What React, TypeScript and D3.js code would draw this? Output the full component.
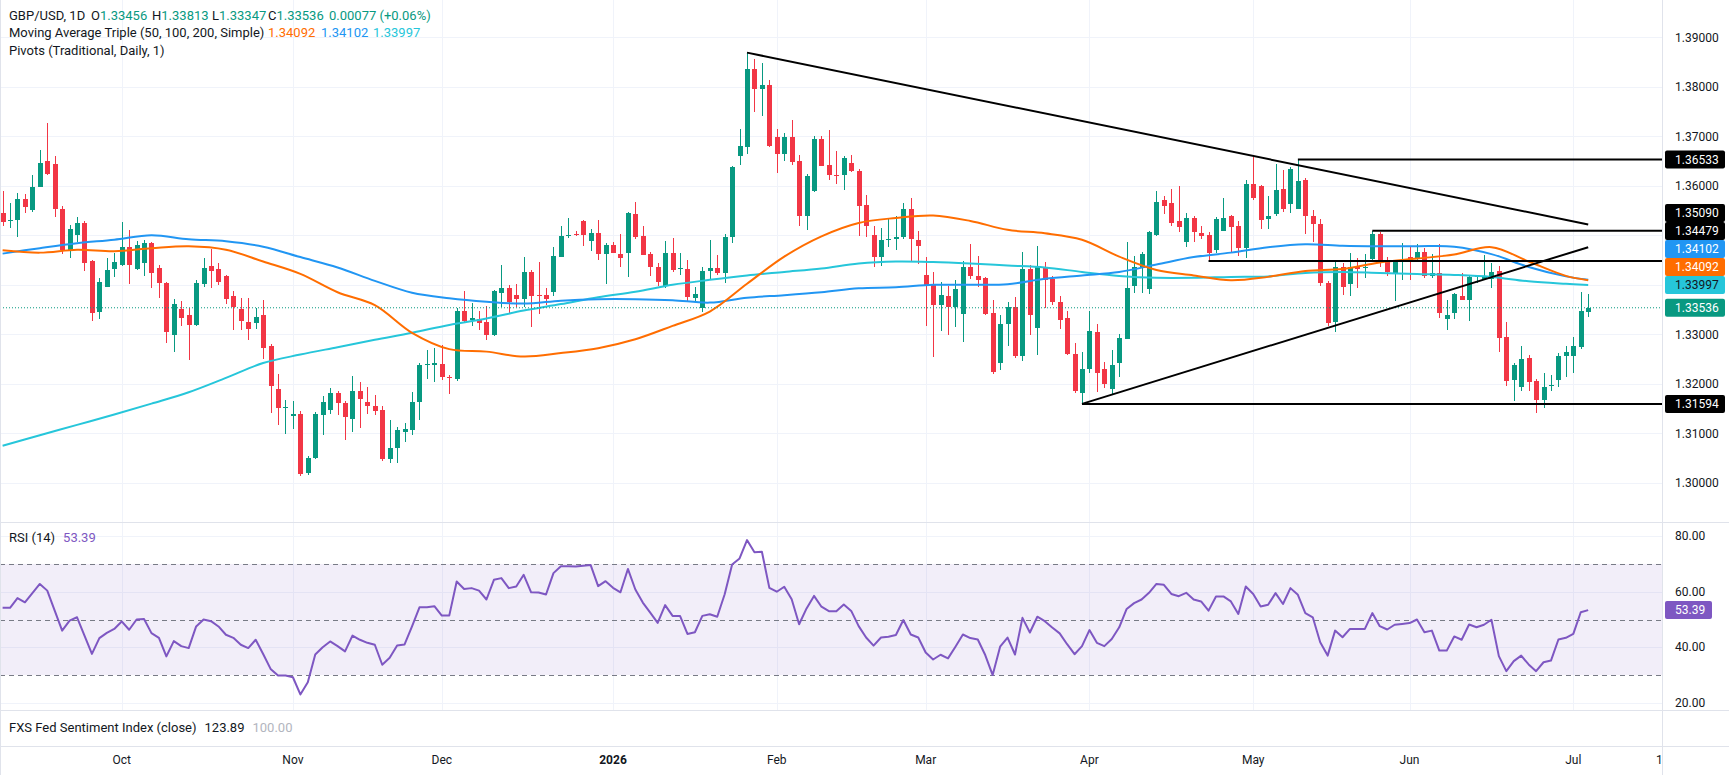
import React, { useLayoutEffect } from 'react';
import * as d3 from 'd3';

const WIDTH = 1729;
const HEIGHT = 775;
const PLOT_RIGHT = 1662;
const MAIN_BOTTOM = 522;
const RSI_BOTTOM = 710;
const FXS_BOTTOM = 746;

const UP = '#089981';
const DOWN = '#f23645';
const TEXT = '#131722';
const GRID = '#f0f3fa';
const BORDER = '#e0e3eb';
const FONT = 'Roboto, "Trebuchet MS", sans-serif';

// daily GBP/USD bars, first bar 9 Sep 2025
const opens = [
  1.3546, 1.3529, 1.3531, 1.3573, 1.3552, 1.3598, 1.3651, 1.3644, 1.3554, 1.3468,
  1.3500, 1.3525, 1.3449, 1.3346, 1.3395, 1.3432, 1.3441, 1.3476, 1.3432, 1.3445,
  1.3484, 1.3434, 1.3404, 1.3299, 1.3351, 1.3338, 1.3318, 1.3402, 1.3437, 1.3432,
  1.3418, 1.3377, 1.3351, 1.3325, 1.3323, 1.3338, 1.3276, 1.3190, 1.3153, 1.3134,
  1.3140, 1.3020, 1.3050, 1.3136, 1.3148, 1.3181, 1.3161, 1.3128, 1.3186, 1.3163,
  1.3155, 1.3148, 1.3049, 1.3070, 1.3102, 1.3107, 1.3163, 1.3238, 1.3237, 1.3239,
  1.3214, 1.3210, 1.3348, 1.3328, 1.3330, 1.3325, 1.3299, 1.3383, 1.3394, 1.3380,
  1.3372, 1.3426, 1.3379, 1.3379, 1.3386, 1.3457, 1.3500, 1.3502, 1.3529, 1.3488,
  1.3505, 1.3463, 1.3480, 1.3463, 1.3465, 1.3543, 1.3499, 1.3463, 1.3436, 1.3398,
  1.3465, 1.3432, 1.3432, 1.3374, 1.3353, 1.3428, 1.3434, 1.3423, 1.3496, 1.3661,
  1.3679, 1.3836, 1.3796, 1.3804, 1.3698, 1.3665, 1.3698, 1.3651, 1.3538, 1.3590,
  1.3695, 1.3642, 1.3622, 1.3621, 1.3647, 1.3630, 1.3562, 1.3501, 1.3457, 1.3491,
  1.3492, 1.3496, 1.3554, 1.3491, 1.3420, 1.3402, 1.3360, 1.3377, 1.3356, 1.3341,
  1.3435, 1.3417, 1.3413, 1.3343, 1.3243, 1.3320, 1.3356, 1.3257, 1.3432, 1.3312,
  1.3436, 1.3412, 1.3366, 1.3332, 1.3261, 1.3181, 1.3229, 1.3305, 1.3229, 1.3190,
  1.3243, 1.3291, 1.3397, 1.3434, 1.3391, 1.3500, 1.3572, 1.3565, 1.3529, 1.3486,
  1.3535, 1.3505, 1.3501, 1.3470, 1.3508, 1.3539, 1.3518, 1.3474, 1.3604, 1.3599,
  1.3533, 1.3543, 1.3594, 1.3563, 1.3554, 1.3612, 1.3539, 1.3523, 1.3404, 1.3324,
  1.3435, 1.3401, 1.3437, 1.3435, 1.3452, 1.3503, 1.3446, 1.3424, 1.3450, 1.3457,
  1.3452, 1.3467, 1.3418, 1.3424, 1.3331, 1.3343, 1.3377, 1.3369, 1.3416, 1.3412,
  1.3412, 1.3428, 1.3294, 1.3207, 1.3193, 1.3252, 1.3205, 1.3167, 1.3196, 1.3207,
  1.3257, 1.3257, 1.3274, 1.33456,
];
const highs = [
  1.3590, 1.3565, 1.3585, 1.3583, 1.3621, 1.3673, 1.3727, 1.3661, 1.3560, 1.3521,
  1.3537, 1.3529, 1.3451, 1.3414, 1.3455, 1.3465, 1.3527, 1.3511, 1.3489, 1.3491,
  1.3487, 1.3439, 1.3405, 1.3371, 1.3368, 1.3354, 1.3409, 1.3454, 1.3473, 1.3444,
  1.3419, 1.3387, 1.3373, 1.3373, 1.3354, 1.3370, 1.3280, 1.3220, 1.3167, 1.3165,
  1.3146, 1.3055, 1.3144, 1.3175, 1.3192, 1.3186, 1.3165, 1.3216, 1.3203, 1.3194,
  1.3177, 1.3156, 1.3126, 1.3112, 1.3120, 1.3183, 1.3243, 1.3269, 1.3272, 1.3279,
  1.3218, 1.3353, 1.3387, 1.3363, 1.3348, 1.3358, 1.3390, 1.3439, 1.3400, 1.3402,
  1.3456, 1.3429, 1.3446, 1.3394, 1.3476, 1.3519, 1.3535, 1.3508, 1.3531, 1.3513,
  1.3531, 1.3484, 1.3486, 1.3503, 1.3548, 1.3568, 1.3518, 1.3467, 1.3444, 1.3488,
  1.3495, 1.3465, 1.3451, 1.3395, 1.3435, 1.3491, 1.3460, 1.3503, 1.3640, 1.3714,
  1.3869, 1.3856, 1.3849, 1.3814, 1.3715, 1.3706, 1.3733, 1.3663, 1.3624, 1.3701,
  1.3701, 1.3713, 1.3671, 1.3661, 1.3663, 1.3634, 1.3582, 1.3518, 1.3515, 1.3535,
  1.3538, 1.3565, 1.3575, 1.3509, 1.3456, 1.3426, 1.3405, 1.3398, 1.3410, 1.3449,
  1.3483, 1.3459, 1.3415, 1.3370, 1.3340, 1.3365, 1.3375, 1.3467, 1.3439, 1.3479,
  1.3447, 1.3417, 1.3378, 1.3348, 1.3282, 1.3264, 1.3348, 1.3321, 1.3245, 1.3269,
  1.3301, 1.3486, 1.3459, 1.3467, 1.3509, 1.3590, 1.3580, 1.3593, 1.3600, 1.3545,
  1.3540, 1.3518, 1.3506, 1.3537, 1.3575, 1.3541, 1.3528, 1.3612, 1.3659, 1.3602,
  1.3580, 1.3644, 1.3632, 1.3637, 1.36533, 1.3616, 1.3552, 1.3533, 1.3407, 1.3451,
  1.3444, 1.3464, 1.3454, 1.3463, 1.3509, 1.3507, 1.3457, 1.3451, 1.3484, 1.3476,
  1.3482, 1.3474, 1.3462, 1.3482, 1.3370, 1.3383, 1.3424, 1.3417, 1.3420, 1.3461,
  1.3445, 1.3438, 1.3325, 1.3243, 1.3276, 1.3259, 1.3210, 1.3222, 1.3218, 1.3262,
  1.3277, 1.3295, 1.3385, 1.33813,
];
const lows = [
  1.3519, 1.3514, 1.3496, 1.3546, 1.3547, 1.3597, 1.3621, 1.3537, 1.3463, 1.3455,
  1.3486, 1.3427, 1.3326, 1.3330, 1.3395, 1.3415, 1.3437, 1.3402, 1.3430, 1.3417,
  1.3393, 1.3373, 1.3282, 1.3264, 1.3316, 1.3249, 1.3316, 1.3395, 1.3393, 1.3400,
  1.3362, 1.3308, 1.3308, 1.3289, 1.3311, 1.3250, 1.3142, 1.3117, 1.3099, 1.3109,
  1.3013, 1.3015, 1.3048, 1.3096, 1.3138, 1.3136, 1.3086, 1.3102, 1.3110, 1.3138,
  1.3136, 1.3045, 1.3040, 1.3040, 1.3082, 1.3097, 1.3126, 1.3210, 1.3203, 1.3208,
  1.3180, 1.3205, 1.3323, 1.3317, 1.3308, 1.3289, 1.3297, 1.3356, 1.3343, 1.3356,
  1.3356, 1.3314, 1.3342, 1.3360, 1.3377, 1.3456, 1.3494, 1.3499, 1.3478, 1.3469,
  1.3451, 1.3402, 1.3465, 1.3435, 1.3415, 1.3492, 1.3461, 1.3417, 1.3397, 1.3393,
  1.3425, 1.3420, 1.3365, 1.3366, 1.3346, 1.3410, 1.3420, 1.3404, 1.3484, 1.3642,
  1.3665, 1.3750, 1.3741, 1.3679, 1.3625, 1.3651, 1.3642, 1.3518, 1.3510, 1.3587,
  1.3641, 1.3611, 1.3604, 1.3591, 1.3627, 1.3498, 1.3496, 1.3435, 1.3437, 1.3476,
  1.3471, 1.3493, 1.3449, 1.3442, 1.3316, 1.3255, 1.3306, 1.3299, 1.3314, 1.3284,
  1.3412, 1.3395, 1.3340, 1.3220, 1.3227, 1.3276, 1.3252, 1.3247, 1.3299, 1.3259,
  1.3354, 1.3360, 1.3311, 1.3259, 1.3181, 1.31594, 1.3222, 1.3183, 1.3191, 1.3178,
  1.3213, 1.3290, 1.3383, 1.3383, 1.3382, 1.3498, 1.3543, 1.3518, 1.3506, 1.3476,
  1.3486, 1.3493, 1.34479, 1.3464, 1.3508, 1.3464, 1.3459, 1.3454, 1.3572, 1.3513,
  1.3513, 1.3538, 1.3548, 1.3546, 1.3553, 1.3502, 1.3486, 1.3397, 1.3316, 1.3304,
  1.3380, 1.3377, 1.3393, 1.3414, 1.3451, 1.3436, 1.3417, 1.3368, 1.3410, 1.3410,
  1.3447, 1.3413, 1.3414, 1.3333, 1.3308, 1.3331, 1.3369, 1.3326, 1.3404, 1.3410,
  1.3393, 1.3264, 1.3195, 1.3166, 1.3186, 1.3186, 1.3142, 1.3152, 1.3185, 1.3194,
  1.3214, 1.3222, 1.3270, 1.33347,
];
const closes = [
  1.3526, 1.3530, 1.3574, 1.3558, 1.3598, 1.3646, 1.3624, 1.3554, 1.3470, 1.3513,
  1.3525, 1.3445, 1.3344, 1.3406, 1.3430, 1.3447, 1.3476, 1.3441, 1.3480, 1.3484,
  1.3424, 1.3404, 1.3304, 1.3362, 1.3333, 1.3318, 1.3404, 1.3434, 1.3428, 1.3405,
  1.3371, 1.3356, 1.3326, 1.3310, 1.3335, 1.3272, 1.3195, 1.3152, 1.3154, 1.3140,
  1.3018, 1.3051, 1.3138, 1.3163, 1.3182, 1.3161, 1.3132, 1.3186, 1.3169, 1.3155,
  1.3146, 1.3049, 1.3070, 1.3107, 1.3109, 1.3163, 1.3237, 1.3239, 1.3242, 1.3213,
  1.3213, 1.3348, 1.3326, 1.3333, 1.3323, 1.3299, 1.3387, 1.3394, 1.3366, 1.3372,
  1.3426, 1.3378, 1.3378, 1.3372, 1.3459, 1.3499, 1.3501, 1.3500, 1.3501, 1.3505,
  1.3463, 1.3481, 1.3465, 1.3455, 1.3545, 1.3496, 1.3461, 1.3435, 1.3406, 1.3464,
  1.3429, 1.3433, 1.3375, 1.3382, 1.3428, 1.3434, 1.3424, 1.3496, 1.3637, 1.3681,
  1.3836, 1.3796, 1.3804, 1.3681, 1.3665, 1.3698, 1.3649, 1.3538, 1.3619, 1.3695,
  1.3641, 1.3622, 1.3621, 1.3657, 1.3629, 1.3560, 1.3518, 1.3457, 1.3490, 1.3492,
  1.3496, 1.3554, 1.3492, 1.3478, 1.3400, 1.3360, 1.3379, 1.3356, 1.3392, 1.3435,
  1.3417, 1.3410, 1.3342, 1.3223, 1.3321, 1.3356, 1.3257, 1.3432, 1.3340, 1.3436,
  1.3409, 1.3365, 1.3328, 1.3260, 1.3186, 1.3230, 1.3307, 1.3222, 1.3200, 1.3237,
  1.3293, 1.3393, 1.3436, 1.3462, 1.3507, 1.3567, 1.3560, 1.3525, 1.3516, 1.3535,
  1.3506, 1.3499, 1.3465, 1.3533, 1.3535, 1.3516, 1.3474, 1.3604, 1.3576, 1.3530,
  1.3540, 1.3592, 1.3554, 1.3634, 1.3610, 1.3538, 1.3523, 1.3404, 1.3323, 1.3435,
  1.3395, 1.3435, 1.3432, 1.3436, 1.3503, 1.3446, 1.3425, 1.3446, 1.3451, 1.3451,
  1.3467, 1.3417, 1.3424, 1.3343, 1.3340, 1.3381, 1.3369, 1.3416, 1.3417, 1.3417,
  1.3426, 1.3292, 1.3205, 1.3237, 1.3251, 1.3203, 1.3168, 1.3194, 1.3197, 1.3257,
  1.3264, 1.3277, 1.3348, 1.33536,
];

// moving averages, sampled every 5 bars
const maIdx = [
  0, 5, 10, 15, 20, 25, 30, 35, 40, 45, 50, 55, 60, 65, 70, 75, 80, 85, 90, 95, 100,
  105, 110, 115, 120, 125, 130, 135, 140, 145, 150, 155, 160, 165, 170, 175, 180,
  185, 190, 195, 200, 205, 210, 213,
];
const ma50 = [
  1.3470, 1.3465, 1.3471, 1.3468, 1.3474, 1.3478, 1.3471, 1.3447, 1.3422, 1.3385, 1.3359,
  1.3303, 1.3270, 1.3265, 1.3255, 1.3262, 1.3272, 1.3290, 1.3317, 1.3346, 1.3402,
  1.3457, 1.3498, 1.3525, 1.3535, 1.3540, 1.3529, 1.3511, 1.3504, 1.3491, 1.3457,
  1.3430, 1.3419, 1.3409, 1.3416, 1.3428, 1.3432, 1.3445, 1.3453, 1.3461, 1.3476,
  1.3447, 1.3418, 1.34092,
];
const ma100 = [
  1.3463, 1.3474, 1.3484, 1.3491, 1.3500, 1.3492, 1.3488, 1.3477, 1.3456, 1.3435, 1.3408,
  1.3384, 1.3373, 1.3366, 1.3362, 1.3368, 1.3371, 1.3371, 1.3369, 1.3364, 1.3374,
  1.3379, 1.3385, 1.3393, 1.3395, 1.3400, 1.3400, 1.3401, 1.3412, 1.3419, 1.3426,
  1.3441, 1.3456, 1.3465, 1.3476, 1.3482, 1.3479, 1.3478, 1.3478, 1.3477, 1.3462,
  1.3436, 1.3417, 1.34102,
];
const ma200 = [
  1.3075, 1.3096, 1.3117, 1.3138, 1.3160, 1.3183, 1.3212, 1.3242, 1.3259, 1.3274, 1.3289,
  1.3303, 1.3319, 1.3332, 1.3348, 1.3361, 1.3375, 1.3386, 1.3400, 1.3410, 1.3419,
  1.3426, 1.3433, 1.3443, 1.3447, 1.3446, 1.3443, 1.3439, 1.3435, 1.3426, 1.3418,
  1.3414, 1.3414, 1.3416, 1.3417, 1.3424, 1.3426, 1.3424, 1.3422, 1.3420, 1.3416,
  1.3407, 1.3402, 1.33997,
];

const rsi = [
  54.2, 54.2, 57.7, 56.2, 59.5, 62.8, 60.4, 53.2, 46.0, 49.6,
  50.8, 44.2, 37.6, 43.3, 45.2, 46.6, 49.3, 46.3, 50.0, 50.2,
  45.1, 43.4, 36.7, 42.2, 40.4, 39.7, 47.5, 50.0, 49.4, 47.5,
  44.5, 43.4, 40.9, 39.7, 42.7, 37.6, 32.2, 29.8, 29.8, 29.2,
  23.0, 27.4, 37.4, 40.0, 42.1, 40.4, 38.5, 44.2, 42.7, 41.6,
  40.9, 33.7, 36.2, 40.6, 41.0, 47.5, 54.4, 54.4, 54.8, 51.4,
  51.4, 63.7, 61.0, 61.3, 60.4, 57.2, 64.3, 64.9, 61.3, 61.9,
  66.1, 59.8, 59.7, 59.0, 66.7, 69.2, 69.2, 69.1, 69.4, 69.6,
  62.0, 63.8, 61.4, 59.8, 68.2, 60.8, 56.1, 52.5, 48.8, 55.2,
  51.3, 51.3, 44.8, 45.4, 51.3, 51.9, 51.0, 59.1, 69.8, 72.0,
  78.6, 74.2, 74.4, 61.4, 60.0, 61.8, 57.3, 48.3, 54.0, 58.5,
  54.6, 53.0, 53.0, 55.4, 53.1, 47.6, 43.5, 40.6, 43.5, 43.8,
  44.4, 49.8, 44.6, 43.5, 38.1, 35.6, 37.3, 36.0, 40.2, 44.6,
  43.3, 42.8, 37.2, 30.0, 40.2, 43.5, 37.4, 50.6, 45.3, 51.0,
  49.4, 47.1, 45.0, 41.1, 37.5, 40.4, 46.2, 41.6, 40.4, 43.0,
  47.2, 53.8, 55.9, 57.2, 59.6, 62.8, 62.5, 59.2, 58.4, 59.6,
  57.2, 56.5, 53.2, 58.3, 58.3, 56.5, 52.0, 61.9, 59.2, 54.7,
  55.3, 59.5, 55.6, 61.3, 58.9, 52.3, 50.8, 41.8, 37.0, 46.0,
  43.6, 46.6, 46.6, 46.6, 52.3, 47.6, 46.4, 48.1, 48.4, 48.7,
  50.0, 45.4, 46.0, 38.8, 38.8, 43.9, 42.7, 48.2, 47.2, 48.1,
  49.9, 36.8, 31.4, 35.0, 37.0, 33.8, 31.4, 34.6, 35.2, 42.8,
  43.4, 44.8, 52.6, 53.39,
];

// horizontal levels and where they start (bar index)
const levelValues = [1.36533, 1.3509, 1.34479, 1.31594];
const levelStarts = [174, 184, 162, 145];
const resistanceLine = [{ i: 100, v: 1.3869 }, { i: 213, v: 1.3522 }];
const supportLine = [{ i: 145, v: 1.31594 }, { i: 213, v: 1.3476 }];

const priceTicks = [1.3, 1.31, 1.32, 1.33, 1.34, 1.35, 1.36, 1.37, 1.38, 1.39];
const rsiTicks = [20, 40, 60, 80];
const dayTicks = [new Date(2026, 6, 17)];

const lastPrice = closes[closes.length - 1];
const lastRsi = rsi[rsi.length - 1];

// weekday trading calendar
const calendar = d3.timeDay
  .range(new Date(2025, 8, 9), new Date(2026, 7, 1))
  .filter(d => d.getDay() % 6 !== 0);

const x = d3.scaleLinear().domain([0, 213]).range([2.6, 1588.2]);
const y = d3.scaleLinear().domain([1.3, 1.39]).range([482.8, 37.3]);
const yRsi = d3.scaleLinear().domain([20, 80]).range([702.8, 536.2]);

const fmtMonth = d3.timeFormat('%b');
const timeTicks = calendar.flatMap((d, i) => {
  if (i > 0 && d.getMonth() !== calendar[i - 1].getMonth()) {
    const jan = d.getMonth() === 0;
    return [{ i, label: jan ? String(d.getFullYear()) : fmtMonth(d), bold: jan }];
  }
  if (dayTicks.some(t => +t === +d)) return [{ i, label: String(d.getDate()), bold: false }];
  return [];
}).filter(t => x(t.i) < PLOT_RIGHT + 10);

const axisLabels = [
  { v: 1.36533, bg: '#000000', fg: '#ffffff' },
  { v: 1.3509, bg: '#000000', fg: '#ffffff' },
  { v: 1.34479, bg: '#000000', fg: '#ffffff' },
  { v: ma100[ma100.length - 1], bg: '#2196f3', fg: '#ffffff' },
  { v: ma50[ma50.length - 1], bg: '#ff6d00', fg: '#ffffff' },
  { v: ma200[ma200.length - 1], bg: '#26c6da', fg: TEXT },
  { v: lastPrice, bg: UP, fg: '#ffffff' },
  { v: 1.31594, bg: '#000000', fg: '#ffffff' },
];

// stack the price labels upward so they don't overlap
const LABEL_H = 18;
const placedLabels = (() => {
  const sorted = axisLabels.map(l => ({ ...l, cy: y(l.v) })).sort((a, b) => b.cy - a.cy);
  for (let k = 1; k < sorted.length; k++) {
    const limit = sorted[k - 1].cy - LABEL_H;
    if (sorted[k].cy > limit) sorted[k].cy = limit;
  }
  return sorted;
})();

const maLine = (vals: number[]) =>
  d3.line<number>()
    .x((_, k) => x(maIdx[k]))
    .y(v => y(v))
    .curve(d3.curveCatmullRom.alpha(0.5))(vals) || '';

const rsiPath = d3.line<number>().x((_, i) => x(i)).y(v => yRsi(v))(rsi) || '';

const Candles = () => {
  const n = Math.min(opens.length, highs.length, lows.length, closes.length);
  return (
    <g shapeRendering="crispEdges">
      {d3.range(n).map(i => {
        const o = opens[i], h = highs[i], l = lows[i], c = closes[i];
        const color = c >= o ? UP : DOWN;
        const cx = Math.round(x(i));
        const top = y(Math.max(o, c));
        const bodyH = Math.max(1, y(Math.min(o, c)) - top);
        return (
          <g key={i}>
            <line x1={cx + 0.5} x2={cx + 0.5} y1={y(h)} y2={y(l)} stroke={color} strokeWidth={1} />
            <rect x={cx - 2} y={top} width={5} height={bodyH} fill={color} />
          </g>
        );
      })}
    </g>
  );
};

const App = () => {
  useLayoutEffect(() => {
    document.body.style.margin = '0';
    document.body.style.overflow = 'hidden';
  }, []);

  const gridX = timeTicks.filter(t => x(t.i) < PLOT_RIGHT - 2);
  const hiddenTick = (v: number) => placedLabels.some(l => Math.abs(l.cy - y(v)) < 15);

  return (
    <svg width={WIDTH} height={HEIGHT} style={{ display: 'block', fontFamily: FONT }}>
      <defs>
        <clipPath id="main-clip"><rect x={0} y={0} width={PLOT_RIGHT} height={MAIN_BOTTOM} /></clipPath>
        <clipPath id="rsi-clip"><rect x={0} y={MAIN_BOTTOM} width={PLOT_RIGHT} height={RSI_BOTTOM - MAIN_BOTTOM} /></clipPath>
        <clipPath id="time-clip"><rect x={0} y={FXS_BOTTOM} width={PLOT_RIGHT} height={HEIGHT - FXS_BOTTOM} /></clipPath>
      </defs>
      <rect width={WIDTH} height={HEIGHT} fill="#ffffff" />

      {/* grid */}
      <g stroke={GRID} strokeWidth={1} shapeRendering="crispEdges">
        {priceTicks.map(v => (
          <line key={v} x1={0} x2={PLOT_RIGHT} y1={Math.round(y(v)) + 0.5} y2={Math.round(y(v)) + 0.5} />
        ))}
        {rsiTicks.map(v => (
          <line key={v} x1={0} x2={PLOT_RIGHT} y1={Math.round(yRsi(v)) + 0.5} y2={Math.round(yRsi(v)) + 0.5} />
        ))}
        {gridX.map(t => (
          <line key={t.i} x1={Math.round(x(t.i)) + 0.5} x2={Math.round(x(t.i)) + 0.5} y1={0} y2={RSI_BOTTOM} />
        ))}
      </g>

      {/* main pane */}
      <g clipPath="url(#main-clip)">
        <Candles />
        <path d={maLine(ma200)} fill="none" stroke="#26c6da" strokeWidth={2} />
        <path d={maLine(ma100)} fill="none" stroke="#2196f3" strokeWidth={2} />
        <path d={maLine(ma50)} fill="none" stroke="#ff6d00" strokeWidth={2} />
        <line x1={0} x2={PLOT_RIGHT} y1={y(lastPrice)} y2={y(lastPrice)} stroke={UP} strokeWidth={1} strokeDasharray="1 2" />
        {levelValues.map((v, k) => (
          <line key={v} x1={x(levelStarts[k])} x2={PLOT_RIGHT} y1={y(v)} y2={y(v)} stroke="#000" strokeWidth={2} />
        ))}
        {[resistanceLine, supportLine].map((seg, k) => (
          <line key={k} x1={x(seg[0].i)} y1={y(seg[0].v)} x2={x(seg[1].i)} y2={y(seg[1].v)} stroke="#000" strokeWidth={2} />
        ))}
      </g>

      {/* RSI pane */}
      <g clipPath="url(#rsi-clip)">
        <rect x={0} y={yRsi(70)} width={PLOT_RIGHT} height={yRsi(30) - yRsi(70)} fill="rgba(126,87,194,0.1)" />
        {[70, 50, 30].map(v => (
          <line key={v} x1={0} x2={PLOT_RIGHT} y1={Math.round(yRsi(v)) + 0.5} y2={Math.round(yRsi(v)) + 0.5}
            stroke="#787b86" strokeWidth={1} strokeDasharray="5 4" />
        ))}
        <path d={rsiPath} fill="none" stroke="#7e57c2" strokeWidth={2} strokeLinejoin="round" />
      </g>

      {/* pane borders */}
      <g stroke={BORDER} strokeWidth={1} shapeRendering="crispEdges">
        <line x1={0} x2={WIDTH} y1={MAIN_BOTTOM + 0.5} y2={MAIN_BOTTOM + 0.5} />
        <line x1={0} x2={WIDTH} y1={RSI_BOTTOM + 0.5} y2={RSI_BOTTOM + 0.5} />
        <line x1={0} x2={WIDTH} y1={FXS_BOTTOM + 0.5} y2={FXS_BOTTOM + 0.5} />
        <line x1={PLOT_RIGHT + 0.5} x2={PLOT_RIGHT + 0.5} y1={0} y2={HEIGHT} />
        <line x1={0.5} x2={0.5} y1={0} y2={HEIGHT} />
      </g>

      {/* price axis */}
      <g fontSize={12} fill={TEXT}>
        {priceTicks.filter(v => !hiddenTick(v)).map(v => (
          <text key={v} x={1675} y={y(v)} dy="0.35em">{v.toFixed(5)}</text>
        ))}
        {rsiTicks.filter(v => Math.abs(yRsi(v) - yRsi(lastRsi)) > 14).map(v => (
          <text key={v} x={1675} y={yRsi(v)} dy="0.35em">{v.toFixed(2)}</text>
        ))}
      </g>
      {placedLabels.map(l => (
        <g key={l.v}>
          <rect x={1665} y={l.cy - LABEL_H / 2} width={60} height={LABEL_H} rx={2} fill={l.bg} />
          <text x={1675} y={l.cy} dy="0.35em" fontSize={12} fill={l.fg}>{l.v.toFixed(5)}</text>
        </g>
      ))}
      <rect x={1665} y={yRsi(lastRsi) - LABEL_H / 2} width={47} height={LABEL_H} rx={2} fill="#7e57c2" />
      <text x={1675} y={yRsi(lastRsi)} dy="0.35em" fontSize={12} fill="#ffffff">{lastRsi.toFixed(2)}</text>

      {/* time axis */}
      <g clipPath="url(#time-clip)" fontSize={12} fill={TEXT} textAnchor="middle">
        {timeTicks.map(t => (
          <text key={t.i} x={x(t.i)} y={760} dy="0.35em" fontWeight={t.bold ? 700 : 400}>{t.label}</text>
        ))}
      </g>

      {/* legends */}
      <g fontSize={13} fill={TEXT}>
        <text x={9} y={15.7} dy="0.35em">GBP/USD, 1D</text>
        <text x={91} y={15.7} dy="0.35em">O<tspan fill={UP}>{opens[opens.length - 1].toFixed(5)}</tspan></text>
        <text x={152} y={15.7} dy="0.35em">H<tspan fill={UP}>{highs[highs.length - 1].toFixed(5)}</tspan></text>
        <text x={212} y={15.7} dy="0.35em">L<tspan fill={UP}>{lows[lows.length - 1].toFixed(5)}</tspan></text>
        <text x={268} y={15.7} dy="0.35em">C<tspan fill={UP}>{lastPrice.toFixed(5)}</tspan></text>
        <text x={329} y={15.7} dy="0.35em" fill={UP}>0.00077 (+0.06%)</text>

        <text x={9} y={32.7} dy="0.35em">Moving Average Triple (50, 100, 200, Simple)</text>
        <text x={268} y={32.7} dy="0.35em" fill="#ff6d00">{ma50[ma50.length - 1].toFixed(5)}</text>
        <text x={321} y={32.7} dy="0.35em" fill="#2196f3">{ma100[ma100.length - 1].toFixed(5)}</text>
        <text x={373} y={32.7} dy="0.35em" fill="#26c6da">{ma200[ma200.length - 1].toFixed(5)}</text>

        <text x={9} y={50} dy="0.35em">Pivots (Traditional, Daily, 1)</text>

        <text x={9} y={537} dy="0.35em">RSI (14)<tspan dx={8} fill="#7e57c2">{lastRsi.toFixed(2)}</tspan></text>
        <text x={9} y={727} dy="0.35em">
          FXS Fed Sentiment Index (close)
          <tspan dx={8}>123.89</tspan>
          <tspan dx={8} fill="#b2b5be">100.00</tspan>
        </text>
      </g>
    </svg>
  );
};

export default App;
